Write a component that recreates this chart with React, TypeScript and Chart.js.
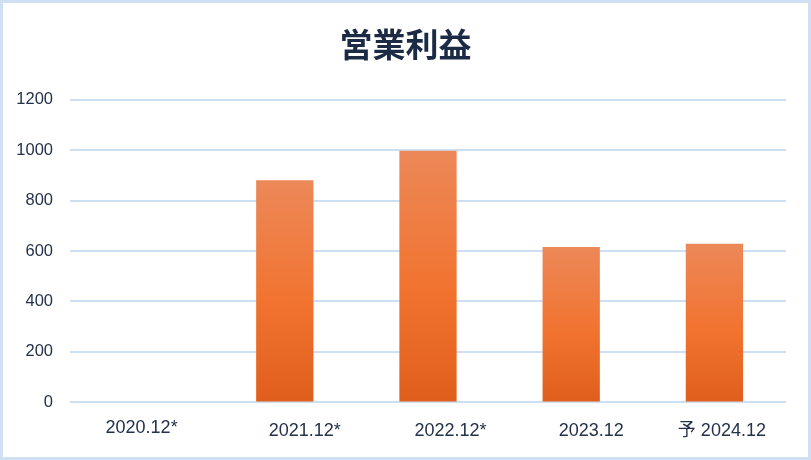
import React, { useEffect, useRef } from "react";
import { Chart, registerables } from "chart.js";

Chart.register(...registerables);

const chartTitle = "営業利益";
const categories = ["2020.12*", "2021.12*", "2022.12*", "2023.12", "予 2024.12"];
const operatingProfit: (number | null)[] = [null, 880, 997, 616, 629];
const yTickValues = [0, 200, 400, 600, 800, 1000, 1200];

const TEXT_COLOR = "#23324a";
const GRID_COLOR = "#cddff2";
const LABEL_FONT = "'Liberation Sans', Arial, 'Noto Sans CJK JP', sans-serif";
// leading spaces used only to nudge individual category labels sideways
const LABEL_NUDGE = [0, 8, 9, 8, 3];

export default function App() {
  const canvasRef = useRef<HTMLCanvasElement | null>(null);

  useEffect(() => {
    const canvas = canvasRef.current;
    if (!canvas) return;

    const barGradient = (ctx: any) => {
      const chart = ctx.chart;
      const yScale = chart.scales?.y;
      const v = ctx.raw;
      if (!yScale || v == null || !chart.chartArea) return "#f07230";
      const top = yScale.getPixelForValue(v);
      const bottom = yScale.getPixelForValue(0);
      if (!isFinite(top) || !isFinite(bottom) || top === bottom) return "#f07230";
      const g = chart.ctx.createLinearGradient(0, top, 0, bottom);
      g.addColorStop(0, "#ec8858");
      g.addColorStop(0.55, "#f1732f");
      g.addColorStop(1, "#e05e1c");
      return g;
    };

    const chart = new Chart(canvas, {
      type: "bar",
      data: {
        labels: categories,
        datasets: [
          {
            label: chartTitle,
            data: operatingProfit,
            backgroundColor: barGradient,
            borderWidth: 0,
            categoryPercentage: 1,
            barPercentage: 0.4,
            yAxisID: "y",
          },
        ],
      },
      options: {
        animation: false,
        responsive: true,
        maintainAspectRatio: false,
        layout: { padding: { left: 10, right: 10, top: 0, bottom: -3 } },
        plugins: {
          legend: { display: false },
          tooltip: { enabled: false },
          title: {
            display: true,
            text: chartTitle,
            color: "#1b2b45",
            font: { family: "'Noto Sans CJK JP', sans-serif", size: 33, weight: "bold", lineHeight: 1.2 },
            padding: { top: 22, bottom: 35 },
          },
        },
        scales: {
          x: {
            grid: { display: false, drawTicks: false },
            border: { display: false },
            ticks: {
              color: TEXT_COLOR,
              padding: 18,
              maxRotation: 0,
              autoSkip: false,
              font: (ctx: any) => ({
                family: LABEL_FONT,
                size: 18,
                lineHeight: ctx.index === 0 ? 0.87 : 1.2,
              }),
              callback: (_v: any, i: number) => " ".repeat(LABEL_NUDGE[i] || 0) + categories[i],
            },
          },
          y: {
            position: "left",
            min: yTickValues[0],
            max: yTickValues[yTickValues.length - 1],
            grid: { color: GRID_COLOR, lineWidth: 2, drawTicks: false },
            border: { display: false },
            afterFit: (scale: any) => {
              scale.width = 57;
            },
            ticks: {
              stepSize: yTickValues[1] - yTickValues[0],
              color: TEXT_COLOR,
              padding: 17,
              font: { family: LABEL_FONT, size: 16.5 },
              callback: (v: any) => String(v),
            },
          },
          rightGap: {
            type: "linear",
            position: "right",
            display: true,
            grid: { display: false, drawTicks: false },
            border: { display: false },
            ticks: { display: false },
            afterFit: (scale: any) => {
              scale.width = 12;
            },
          },
        },
      },
    });

    return () => chart.destroy();
  }, []);

  return (
    <div
      style={{
        position: "fixed",
        left: 0,
        top: 0,
        width: 811,
        height: 460,
        boxSizing: "border-box",
        border: "3px solid #cfe0f3",
        background: "#ffffff",
      }}
    >
      <canvas ref={canvasRef} />
    </div>
  );
}
